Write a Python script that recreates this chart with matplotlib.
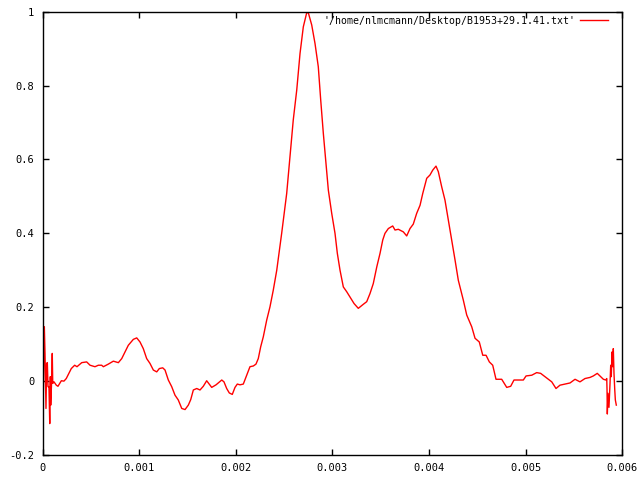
import matplotlib
matplotlib.use('Agg')
import matplotlib.pyplot as plt
import numpy as np

# time in milliseconds
t_ms = [0.005, 0.008, 0.019, 0.026, 0.036, 0.043, 0.050, 0.057, 0.067, 0.075,
        0.081, 0.085, 0.095, 0.101, 0.106, 0.119, 0.143, 0.160, 0.178, 0.195,
        0.222, 0.246, 0.281, 0.298, 0.333, 0.357, 0.406, 0.457, 0.492, 0.543,
        0.578, 0.612, 0.630, 0.681, 0.733, 0.785, 0.820, 0.854, 0.888, 0.940,
        0.975, 1.009, 1.043, 1.078, 1.112, 1.147, 1.182, 1.209, 1.244, 1.268,
        1.302, 1.337, 1.371, 1.405, 1.441, 1.475, 1.509, 1.534, 1.561, 1.596,
        1.630, 1.664, 1.699, 1.751, 1.796, 1.819, 1.855, 1.878, 1.906, 1.933,
        1.964, 1.992, 2.016, 2.044, 2.078, 2.113, 2.147, 2.182, 2.209, 2.233,
        2.258, 2.285, 2.320, 2.354, 2.388, 2.424, 2.475, 2.527, 2.561, 2.595,
        2.631, 2.665, 2.699, 2.734, 2.751, 2.786, 2.820, 2.854, 2.879, 2.906,
        2.934, 2.958, 2.993, 3.027, 3.051, 3.079, 3.113, 3.148, 3.190, 3.224,
        3.268, 3.320, 3.355, 3.389, 3.423, 3.459, 3.493, 3.521, 3.544, 3.579,
        3.624, 3.648, 3.682, 3.734, 3.769, 3.803, 3.837, 3.872, 3.907, 3.935,
        3.976, 4.010, 4.038, 4.072, 4.096, 4.131, 4.165, 4.200, 4.235, 4.269,
        4.303, 4.355, 4.390, 4.442, 4.476, 4.520, 4.556, 4.590, 4.624, 4.659,
        4.693, 4.752, 4.804, 4.845, 4.879, 4.942, 4.976, 5.004, 5.063, 5.114,
        5.155, 5.200, 5.234, 5.270, 5.314, 5.355, 5.407, 5.459, 5.511, 5.562,
        5.614, 5.666, 5.700, 5.741, 5.769, 5.804, 5.829, 5.839, 5.842, 5.845,
        5.852, 5.862, 5.873, 5.880, 5.886, 5.894, 5.901, 5.907, 5.914, 5.922,
        5.928, 5.938]

amplitude = [0.057, -0.042, 0.147, 0.075, -0.074, 0.048, 0.050, -0.015, -0.015, -0.115,
             0.012, -0.065, 0.003, 0.075, -0.006, -0.002, -0.011, -0.014, -0.006, 0.001,
             0.000, 0.007, 0.025, 0.034, 0.043, 0.039, 0.050, 0.052, 0.043, 0.039,
             0.043, 0.043, 0.039, 0.046, 0.054, 0.050, 0.061, 0.079, 0.097, 0.113,
             0.117, 0.106, 0.088, 0.061, 0.048, 0.030, 0.025, 0.034, 0.036, 0.030,
             0.003, -0.015, -0.038, -0.051, -0.074, -0.077, -0.065, -0.050, -0.024, -0.020,
             -0.024, -0.014, 0.001, -0.017, -0.010, -0.005, 0.003, -0.002, -0.020, -0.032,
             -0.036, -0.017, -0.008, -0.010, -0.008, 0.016, 0.039, 0.041, 0.046, 0.061,
             0.093, 0.120, 0.165, 0.201, 0.246, 0.300, 0.400, 0.508, 0.607, 0.707,
             0.788, 0.887, 0.959, 0.997, 0.997, 0.964, 0.914, 0.851, 0.761, 0.671,
             0.589, 0.517, 0.454, 0.400, 0.346, 0.300, 0.255, 0.242, 0.224, 0.210,
             0.197, 0.208, 0.215, 0.237, 0.264, 0.309, 0.346, 0.382, 0.400, 0.413,
             0.420, 0.409, 0.411, 0.404, 0.393, 0.413, 0.425, 0.454, 0.476, 0.508,
             0.549, 0.558, 0.571, 0.582, 0.567, 0.526, 0.490, 0.436, 0.382, 0.328,
             0.273, 0.219, 0.179, 0.147, 0.116, 0.106, 0.070, 0.070, 0.052, 0.043,
             0.005, 0.005, -0.017, -0.014, 0.003, 0.003, 0.003, 0.014, 0.016, 0.023,
             0.021, 0.012, 0.005, -0.002, -0.020, -0.011, -0.008, -0.005, 0.005, -0.002,
             0.007, 0.010, 0.014, 0.021, 0.014, 0.005, 0.003, 0.007, -0.024, -0.089,
             -0.033, -0.071, -0.006, 0.043, 0.012, 0.079, 0.039, 0.088, 0.021, -0.024,
             -0.051, -0.065]

series_label = "'/home/nlmcmann/Desktop/B1953+29.1.41.txt'"
x_ticks = [0, 0.001, 0.002, 0.003, 0.004, 0.005, 0.006]
x_ticklabels = ['0', '0.001', '0.002', '0.003', '0.004', '0.005', '0.006']
y_ticks = [-0.2, 0, 0.2, 0.4, 0.6, 0.8, 1]
y_ticklabels = ['-0.2', '0', '0.2', '0.4', '0.6', '0.8', '1']

t = np.array(t_ms) * 1e-3

plt.rcParams['font.family'] = 'DejaVu Sans Mono'

fig = plt.figure(figsize=(6.4, 4.8), dpi=100)
ax = fig.add_axes([42.5 / 640, 25 / 480, (622.3 - 42.5) / 640, (455 - 11.7) / 480])

ax.plot(t, amplitude, color='red', linewidth=1.0, label=series_label)

ax.set_xlim(0, 0.006)
ax.set_ylim(-0.2, 1)
ax.set_xticks(x_ticks)
ax.set_xticklabels(x_ticklabels)
ax.set_yticks(y_ticks)
ax.set_yticklabels(y_ticklabels)
ax.tick_params(direction='in', length=4.5, width=1, top=True, right=True,
               labelsize=7.5, colors='black', pad=6)
for side in ax.spines.values():
    side.set_linewidth(1.0)

ax.legend(loc='upper right', frameon=False, markerfirst=False, fontsize=7.1,
          handlelength=2.8, handletextpad=0.5, borderaxespad=0.0,
          bbox_to_anchor=(0.982, 1.0))

fig.savefig('out.png', dpi=100)
